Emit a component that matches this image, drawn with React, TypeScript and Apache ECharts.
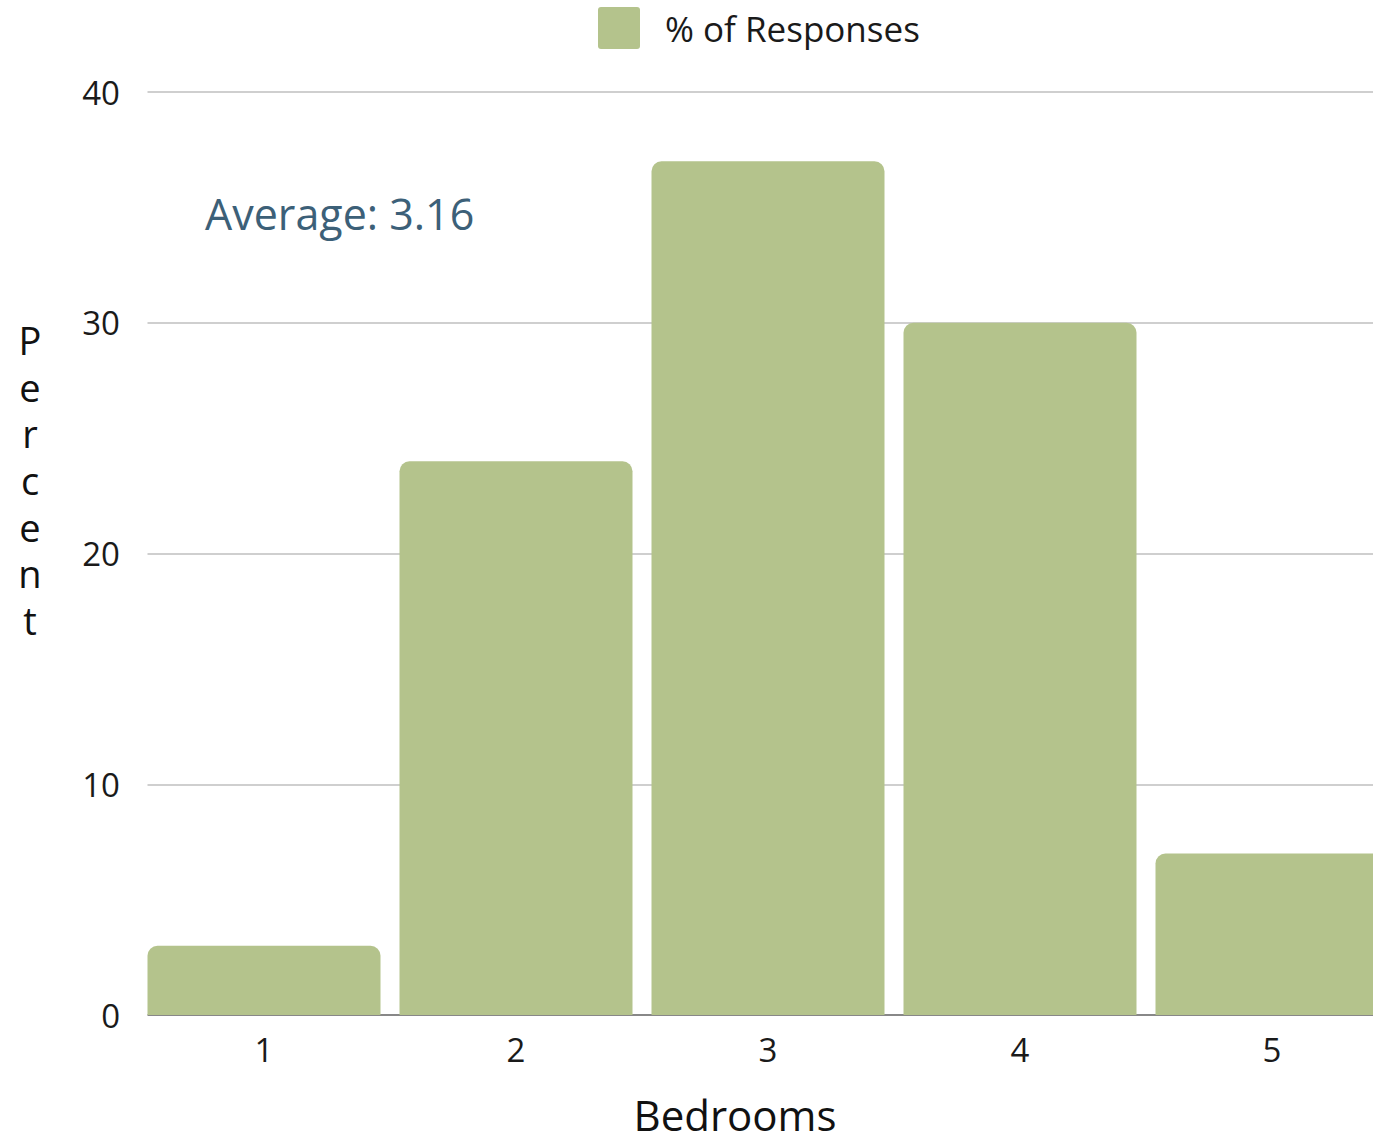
import React, { useEffect, useRef } from "react";
import * as echarts from "echarts";

const categories = ["1", "2", "3", "4", "5"];
const responses = [3, 24, 37, 30, 7];
const yTicks = { min: 0, max: 40, interval: 10 };
const averageLabel = "Average: 3.16";
const seriesName = "% of Responses";
const yAxisName = "Percent";
const xAxisName = "Bedrooms";

export default function App() {
  const ref = useRef<HTMLDivElement>(null);
  useEffect(() => {
    const chart = echarts.init(ref.current!, null, { renderer: "svg" });
    const font = "'Open Sans', sans-serif";
    chart.setOption({
      animation: false,
      textStyle: { fontFamily: font },
      legend: {
        left: 593,
        top: 2,
        itemWidth: 42,
        itemHeight: 42,
        icon: "path://M3,0 H39 Q42,0 42,3 V39 Q42,42 39,42 H3 Q0,42 0,39 V3 Q0,0 3,0 Z",
        textStyle: {
          fontSize: 35,
          color: "#1a1a1a",
          fontFamily: font,
          padding: [0, 0, 5, 20],
        },
        data: [seriesName],
      },
      grid: { left: 138, right: 0, top: 92, bottom: 125, containLabel: false },
      xAxis: {
        type: "category",
        data: categories,
        axisLine: { lineStyle: { color: "#888", width: 2 } },
        axisTick: { show: false },
        axisLabel: { fontSize: 33, color: "#1a1a1a", margin: 18, fontFamily: font },
      },
      yAxis: {
        type: "value",
        min: yTicks.min,
        max: yTicks.max,
        interval: yTicks.interval,
        axisLine: { show: false },
        axisTick: { show: false },
        axisLabel: { fontSize: 33, color: "#1a1a1a", margin: 18, fontFamily: font },
        splitLine: { lineStyle: { color: "#cfcfcf", width: 2 } },
      },
      series: [
        {
          name: seriesName,
          type: "bar",
          data: responses,
          barWidth: 233,
          z: 3,
          itemStyle: { color: "#b4c38c", borderRadius: [10, 10, 0, 0] },
        },
      ],
      graphic: [
        {
          type: "rect",
          z: 1,
          shape: { x: 126, y: 80, width: 21.5, height: 945 },
          style: { fill: "#fff" },
        },
        {
          type: "text",
          x: 205,
          y: 213,
          style: {
            text: averageLabel,
            fontSize: 43,
            fill: "#3c6078",
            fontFamily: font,
            verticalAlign: "middle",
          },
        },
        {
          type: "text",
          x: 30,
          y: 480,
          style: {
            text: yAxisName.split("").join("\n"),
            fontSize: 38,
            lineHeight: 46.7,
            fill: "#111",
            fontFamily: font,
            align: "center",
            verticalAlign: "middle",
          },
        },
        {
          type: "text",
          x: 735,
          y: 1114,
          style: {
            text: xAxisName,
            fontSize: 42,
            lineHeight: 42,
            fill: "#111",
            fontFamily: font,
            align: "center",
            verticalAlign: "middle",
          },
        },
      ],
    });
    return () => chart.dispose();
  }, []);
  return (
    <div
      style={{
        position: "absolute",
        left: 0,
        top: 0,
        width: 1373,
        height: 1140,
        overflow: "hidden",
      }}
    >
      <div ref={ref} style={{ width: 1398, height: 1140 }} />
    </div>
  );
}
